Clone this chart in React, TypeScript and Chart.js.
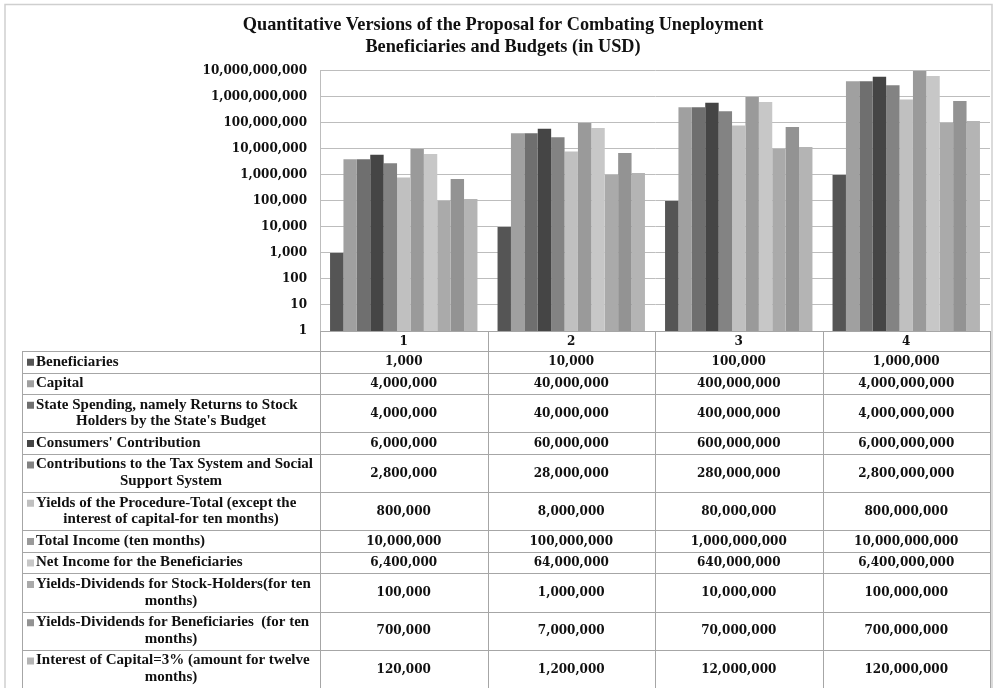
import React, { useEffect, useRef } from "react";
import { Chart, registerables } from "chart.js";

Chart.register(...registerables);

const titleLines = [
  "Quantitative Versions of the Proposal for Combating Uneployment",
  "Beneficiaries and Budgets (in USD)",
];

const categories = ["1", "2", "3", "4"];

const seriesNames = [
  "Beneficiaries",
  "Capital",
  "State Spending, namely Returns to Stock\nHolders by the State's Budget",
  "Consumers' Contribution",
  "Contributions to the Tax System and Social\nSupport System",
  "Yields of the Procedure-Total (except the\ninterest of capital-for ten months)",
  "Total Income (ten months)",
  "Net Income for the Beneficiaries",
  "Yields-Dividends for Stock-Holders(for ten\nmonths)",
  "Yields-Dividends for Beneficiaries  (for ten\nmonths)",
  "Interest of Capital=3% (amount for twelve\nmonths)",
];

const beneficiaries = [1000, 10000, 100000, 1000000];
const capital = [4000000, 40000000, 400000000, 4000000000];
const stateSpending = [4000000, 40000000, 400000000, 4000000000];
const consumersContribution = [6000000, 60000000, 600000000, 6000000000];
const taxContributions = [2800000, 28000000, 280000000, 2800000000];
const yieldsProcedure = [800000, 8000000, 80000000, 800000000];
const totalIncome = [10000000, 100000000, 1000000000, 10000000000];
const netIncome = [6400000, 64000000, 640000000, 6400000000];
const dividendsStockHolders = [100000, 1000000, 10000000, 100000000];
const dividendsBeneficiaries = [700000, 7000000, 70000000, 700000000];
const interestCapital = [120000, 1200000, 12000000, 120000000];

const seriesValues = [
  beneficiaries,
  capital,
  stateSpending,
  consumersContribution,
  taxContributions,
  yieldsProcedure,
  totalIncome,
  netIncome,
  dividendsStockHolders,
  dividendsBeneficiaries,
  interestCapital,
];

const seriesColors = [
  "#555555",
  "#a0a0a0",
  "#6f6f6f",
  "#454545",
  "#838383",
  "#c0c0c0",
  "#9a9a9a",
  "#c7c7c7",
  "#aaaaaa",
  "#939393",
  "#b4b4b4",
];

const yTickValues = [1, 10, 100, 1000, 10000, 100000, 1000000, 10000000, 100000000, 1000000000, 10000000000];

const fmt = (v: number) => Number(v).toLocaleString("en-US");

const NUM_FONT = "bold 12px 'DejaVu Serif'";
const LABEL_FONT = "bold 15px 'Liberation Serif'";
const TEXT_COLOR = "#111111";
const TABLE_LINE = "#a6a6a6";
const TABLE_LEFT = 22;
const LINE_H = 16.75;
const ROW_PAD = 2.375;

const tablePlugin = {
  id: "dataTable",
  beforeDraw(chart: any) {
    const { ctx, width, height } = chart;
    ctx.save();
    ctx.fillStyle = "#ffffff";
    ctx.fillRect(0, 0, width, height);
    ctx.strokeStyle = "#cfcfcf";
    ctx.lineWidth = 1.5;
    ctx.strokeRect(5, 4.5, 987, height + 10);
    ctx.restore();
  },
  afterDraw(chart: any) {
    const { ctx, chartArea } = chart;
    const xs = chart.scales.x;
    const step = xs.getPixelForValue(1) - xs.getPixelForValue(0);
    const bounds = categories.map((_, i) => xs.getPixelForValue(i) - step / 2);
    bounds.push(bounds[bounds.length - 1] + step);
    const headerTop = chartArea.bottom;
    const tableTop = xs.bottom;
    const right = bounds[bounds.length - 1];

    const rowHeights = seriesNames.map((n) => n.split("\n").length * LINE_H + ROW_PAD * 2);
    const tableBottom = tableTop + rowHeights.reduce((a, b) => a + b, 0);

    ctx.save();
    ctx.strokeStyle = TABLE_LINE;
    ctx.lineWidth = 1;
    bounds.forEach((bx: number) => {
      const x = Math.round(bx) + 0.5;
      ctx.beginPath();
      ctx.moveTo(x, headerTop);
      ctx.lineTo(x, tableBottom);
      ctx.stroke();
    });
    ctx.beginPath();
    ctx.moveTo(TABLE_LEFT + 0.5, tableTop);
    ctx.lineTo(TABLE_LEFT + 0.5, tableBottom);
    ctx.stroke();

    let y = tableTop;
    const drawH = (yy: number) => {
      const py = Math.round(yy) + 0.5;
      ctx.beginPath();
      ctx.moveTo(TABLE_LEFT, py);
      ctx.lineTo(right, py);
      ctx.stroke();
    };
    drawH(y);
    const labelCenter = (TABLE_LEFT + bounds[0]) / 2;
    seriesNames.forEach((name, i) => {
      const h = rowHeights[i];
      const lines = name.split("\n");
      ctx.textBaseline = "middle";
      ctx.fillStyle = seriesColors[i];
      const firstMid = y + ROW_PAD + LINE_H / 2;
      ctx.fillRect(TABLE_LEFT + 5, firstMid - 3, 7, 7);
      ctx.fillStyle = TEXT_COLOR;
      ctx.font = LABEL_FONT;
      lines.forEach((ln, li) => {
        const ly = firstMid + li * LINE_H;
        if (li === 0) {
          ctx.textAlign = "left";
          ctx.fillText(ln, TABLE_LEFT + 14, ly);
        } else {
          ctx.textAlign = "center";
          ctx.fillText(ln, labelCenter, ly);
        }
      });
      ctx.font = NUM_FONT;
      ctx.textAlign = "center";
      seriesValues[i].forEach((v, ci) => {
        ctx.fillText(fmt(v), (bounds[ci] + bounds[ci + 1]) / 2, y + h / 2 + 0.5);
      });
      y += h;
      drawH(y);
    });
    ctx.restore();
  },
};

export default function App() {
  const ref = useRef<HTMLCanvasElement | null>(null);
  useEffect(() => {
    document.body.style.margin = "0";
    const canvas = ref.current;
    if (!canvas) return;
    const chart = new Chart(canvas, {
      type: "bar",
      data: {
        labels: categories,
        datasets: seriesNames.map((name, i) => ({
          label: name.replace("\n", " "),
          data: seriesValues[i],
          backgroundColor: seriesColors[i],
          borderWidth: 0,
          categoryPercentage: 0.88,
          barPercentage: 1,
        })),
      },
      options: {
        responsive: false,
        animation: false,
        devicePixelRatio: 1,
        layout: { padding: { left: 16, right: 8, top: 0, bottom: 337 } },
        plugins: {
          legend: { display: false },
          tooltip: { enabled: false },
          title: {
            display: true,
            text: titleLines,
            color: TEXT_COLOR,
            font: { family: "'Liberation Serif'", size: 18.3, weight: "bold", lineHeight: 1.2 },
            padding: { top: 14, bottom: 13 },
          },
        },
        scales: {
          x: {
            grid: { display: false, drawTicks: false },
            border: { display: true, color: "#a6a6a6" },
            ticks: {
              color: TEXT_COLOR,
              font: { family: "'DejaVu Serif'", size: 12, weight: "bold" },
              padding: 4,
              maxRotation: 0,
            },
            afterFit: (scale: any) => {
              scale.height = 20;
            },
          },
          y: {
            type: "logarithmic",
            min: 1,
            max: 10000000000,
            grid: { color: "#bdbdbd", drawTicks: false },
            border: { display: true, color: "#bdbdbd" },
            ticks: {
              color: TEXT_COLOR,
              font: { family: "'DejaVu Serif'", size: 12, weight: "bold" },
              padding: 13,
              callback: (v: any) => fmt(Number(v)),
            },
            afterBuildTicks: (scale: any) => {
              scale.ticks = yTickValues.map((v) => ({ value: v }));
            },
            afterFit: (scale: any) => {
              scale.width = 304;
            },
          },
        },
      },
      plugins: [tablePlugin],
    } as any);
    return () => chart.destroy();
  }, []);
  return <canvas ref={ref} width={998} height={688} style={{ display: "block" }} />;
}
